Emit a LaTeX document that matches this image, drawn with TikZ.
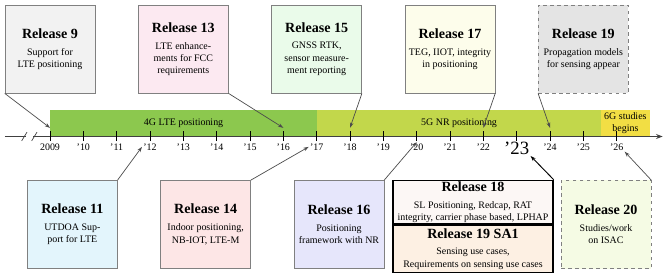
\documentclass[tikz,border=0pt]{standalone}
\usepackage{fontspec}
\setmainfont{Liberation Serif}
\usepackage{xcolor}
\usetikzlibrary{positioning, arrows.meta}

\definecolor{relgray}{HTML}{F2F2F2}
\definecolor{relpink}{HTML}{FCE9F1}
\definecolor{relmint}{HTML}{EAFBEA}
\definecolor{relcream}{HTML}{FDFDEB}
\definecolor{relfuture}{HTML}{E4E4E4}
\definecolor{relsky}{HTML}{E3F5FC}
\definecolor{relrose}{HTML}{FDE6E6}
\definecolor{rellilac}{HTML}{E6E6FB}
\definecolor{relwhite}{HTML}{FCF7F5}
\definecolor{relpeach}{HTML}{FDF0E3}
\definecolor{rellime}{HTML}{F5FBE4}
\definecolor{lteband}{HTML}{8CC84E}
\definecolor{nrband}{HTML}{C2D74B}
\definecolor{sixgband}{HTML}{F2DE44}

\newcommand{\relcard}[2]{{\fontsize{12}{14}\selectfont\bfseries #1}\\[4pt]#2}

\begin{document}
\begin{tikzpicture}[
		relbox/.style={draw=gray, rectangle, minimum width=2.7cm, minimum height=2.65cm,
			align=center, inner sep=2pt, font=\fontsize{8.5}{10.5}\selectfont},
		planbox/.style={relbox, dashed},
		keybox/.style={draw, rectangle, minimum width=4.8cm, line width=1.2pt,
			align=center, inner sep=1pt, font=\fontsize{8.5}{10.5}\selectfont},
		band/.style={rectangle, anchor=south west, minimum height=0.8cm, inner sep=0pt,
			align=center, font=\fontsize{8.5}{10.5}\selectfont},
		yearlab/.style={anchor=north, inner sep=1pt, font=\fontsize{8.5}{10}\selectfont},
		axisline/.style={draw=black!75, line width=0.9pt},
		arrow/.style={-{Stealth[length=1.6mm, width=1.1mm]}, black!70, semithick},
		]
		\useasboundingbox (-1.5,-4.095) rectangle (18.42,4.095);
		
		\node[band, fill=lteband, minimum width=8cm]    (lte)  at (0,0)     {4G LTE positioning};
		\node[band, fill=nrband, minimum width=8.53cm]  (nr)   at (8,0)     {5G NR positioning};
		\node[band, fill=sixgband, minimum width=1.45cm] (sixg) at (16.53,0) {6G studies\\begins};
		
		% time axis with break
		\draw[axisline] (-1.35,0) -- (-0.72,0);
		\draw[axisline, -{Stealth[length=2mm]}] (-0.5,0) -- (18.38,0);
		\foreach \x in {-0.77,-0.47}
		\draw[axisline, line width=0.6pt] (\x-0.08,-0.13) -- (\x+0.08,0.13);
		\foreach \x in {0,...,17} {
			\draw[black, line width=0.6pt] (\x,-0.14) -- (\x,0.16);
			\coordinate (t\x) at (\x,0.26);
		}
		\node[yearlab] (y09) at (0,-0.17) {2009};
		\foreach \yr in {10,11,12,13,14,15,16,17,18,19,20,21,22,24,25,26}
		\node[yearlab] (y\yr) at (\yr-9,-0.17) {'\yr};
		\node[yearlab, font=\fontsize{16}{16}\selectfont] (y23) at (14,-0.12) {'23};
		
		\node[relbox, fill=relgray]   (r9)  at (0,2.625)  {\relcard{Release 9}{Support for\\LTE positioning}};
		\node[relbox, fill=relpink]   (r13) at (4,2.625)  {\relcard{Release 13}{LTE enhance-\\ments for FCC\\requirements}};
		\node[relbox, fill=relmint]   (r15) at (8,2.625)  {\relcard{Release 15}{GNSS RTK,\\sensor measure-\\ment reporting}};
		\node[relbox, fill=relcream]  (r17) at (12,2.625) {\relcard{Release 17}{TEG, IIOT, integrity\\in positioning}};
		\node[planbox, fill=relfuture] (r19) at (16,2.625) {\relcard{Release 19}{Propagation models\\for sensing appear}};
		
		\node[relbox, fill=relsky]    (r11) at (0.67,-2.64)  {\relcard{Release 11}{UTDOA Sup-\\port for LTE}};
		\node[relbox, fill=relrose]   (r14) at (4.67,-2.64)  {\relcard{Release 14}{Indoor positioning,\\NB-IOT, LTE-M}};
		\node[relbox, fill=rellilac]  (r16) at (8.67,-2.64)  {\relcard{Release 16}{Positioning\\framework with NR}};
		\node[keybox, fill=relwhite, minimum height=1.3cm] (r18) at (12.69,-1.97)
		{\relcard{Release 18}{SL Positioning, Redcap, RAT\\integrity, carrier phase based, LPHAP}};
		\node[keybox, fill=relpeach, minimum height=1.41cm, below=0pt of r18] (r19sa)
		{\relcard{Release 19 SA1}{Sensing use cases,\\Requirements on sensing use cases}};
		\node[planbox, fill=rellime]  (r20) at (16.68,-2.64) {\relcard{Release 20}{Studies/work\\on ISAC}};
		
		\draw[arrow] (r9.south west)  -- (t0);
		\draw[arrow] (r13.south east) -- (t7);
		\draw[arrow] (r15.south east) -- (t9);
		\draw[arrow] (r17.south east) -- (t13);
		\draw[arrow] (r19.south west) -- (t15);
		\draw[arrow] (r11.north east) -- (y12.west);
		\draw[arrow] (r14.north east) -- (y17.west);
		\draw[arrow] (r16.north east) -- (y20.north);
		\draw[arrow, black, thick] (r18.north east) -- (y23.south east);
		\draw[arrow] (r20.north east) -- (y26.south east);
		
	\end{tikzpicture}
\end{document}
